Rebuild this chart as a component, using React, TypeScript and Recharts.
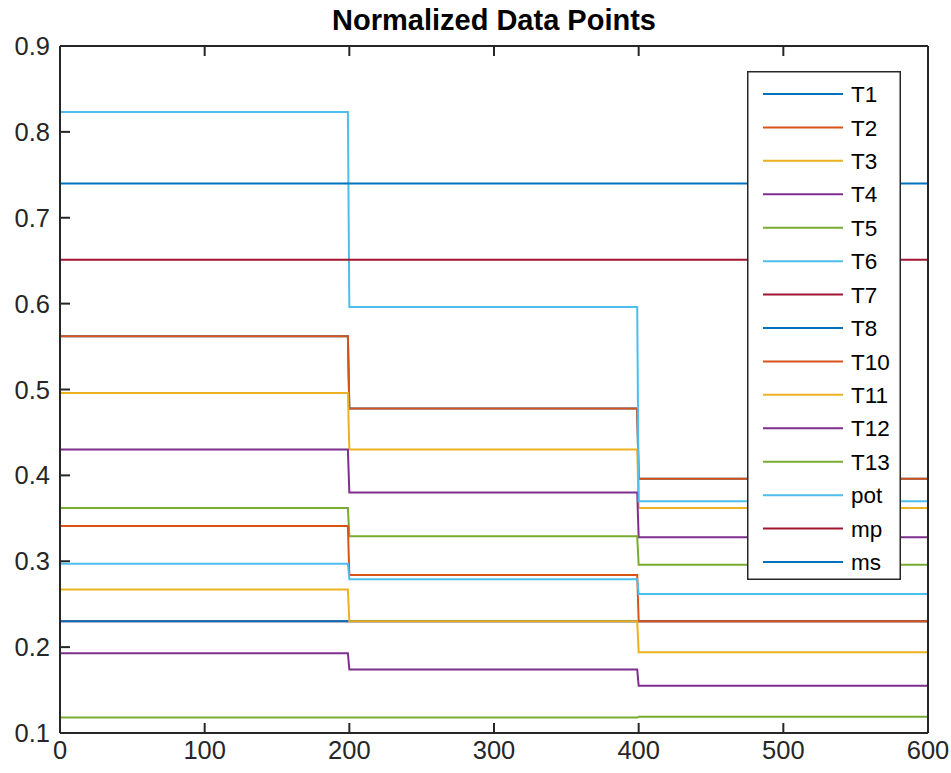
import { Legend, Line, LineChart, XAxis, YAxis } from "recharts";

// sample positions of the three plateaus (0-200, 200-400, 400-600)
const stepX = [0, 199, 200, 399, 400, 600];
const stepSegment = [0, 0, 1, 1, 2, 2];

const seriesNames = ["T1", "T2", "T3", "T4", "T5", "T6", "T7", "T8", "T10", "T11", "T12", "T13", "pot", "mp", "ms"];
const seriesColors = [
  "#0072BD", "#D95319", "#EDB120", "#7E2F8E", "#77AC30", "#4DBEEE", "#A2142F",
  "#0072BD", "#D95319", "#EDB120", "#7E2F8E", "#77AC30", "#4DBEEE", "#A2142F", "#0072BD",
];

// level of each series on each plateau
const T1 = [0.562, 0.478, 0.396];
const T2 = [0.562, 0.478, 0.396];
const T3 = [0.496, 0.43, 0.362];
const T4 = [0.43, 0.38, 0.328];
const T5 = [0.362, 0.329, 0.296];
const T6 = [0.823, 0.596, 0.37];
const T7 = [0.23, 0.23, 0.23];
const T8 = [0.23, 0.23, 0.23];
const T10 = [0.341, 0.284, 0.23];
const T11 = [0.267, 0.23, 0.194];
const T12 = [0.193, 0.174, 0.155];
const T13 = [0.118, 0.118, 0.119];
const pot = [0.297, 0.279, 0.262];
const mp = [0.651, 0.651, 0.651];
const ms = [0.74, 0.74, 0.74];

const levels = [T1, T2, T3, T4, T5, T6, T7, T8, T10, T11, T12, T13, pot, mp, ms];

const xTicks = [0, 100, 200, 300, 400, 500, 600];
const yTicks = [0.1, 0.2, 0.3, 0.4, 0.5, 0.6, 0.7, 0.8, 0.9];

const data = stepX.map((x, i) => {
  const row: Record<string, number> = { x };
  seriesNames.forEach((name, k) => {
    row[name] = levels[k][stepSegment[i]];
  });
  return row;
});

const axisColor = "#262626";
const font = "'Liberation Sans', Arial, Helvetica, sans-serif";

function renderLegend(props: any) {
  // keep plotting order, not alphabetical
  const items = [...(props.payload || [])].sort(
    (a: any, b: any) => seriesNames.indexOf(a.value) - seriesNames.indexOf(b.value)
  );
  return (
    <svg width={154} height={509} style={{ display: "block" }}>
      <rect x={0.75} y={0.75} width={152.5} height={507.5} fill="#fff" stroke={axisColor} strokeWidth={1.5} />
      {items.map((entry: any, i: number) => {
        const cy = 23 + i * 33.43;
        return (
          <g key={entry.value}>
            <line x1={16} x2={96} y1={cy} y2={cy} stroke={entry.color} strokeWidth={2} />
            <text x={104} y={cy} dy="0.36em" fontSize={22.5} fill="#000" fontFamily={font}>
              {entry.value}
            </text>
          </g>
        );
      })}
    </svg>
  );
}

export default function App() {
  return (
    <div style={{ position: "absolute", left: 0, top: 0, width: 951, height: 773, background: "#fff", fontFamily: font }}>
      <div
        style={{
          position: "absolute",
          left: 60,
          top: 6,
          width: 868,
          textAlign: "center",
          fontWeight: 700,
          fontSize: 29,
          lineHeight: 1,
          color: "#000",
        }}
      >
        Normalized Data Points
      </div>
      <LineChart width={951} height={773} data={data} margin={{ top: 45, right: 22, left: 0, bottom: 0 }}>
        <XAxis
          dataKey="x"
          type="number"
          domain={[0, 600]}
          ticks={xTicks}
          height={40}
          stroke={axisColor}
          strokeWidth={2}
          tickSize={-10}
          tickMargin={18}
          tick={{ fill: axisColor, fontSize: 25.5 }}
        />
        <XAxis
          xAxisId="top"
          orientation="top"
          dataKey="x"
          type="number"
          domain={[0, 600]}
          ticks={xTicks}
          height={1}
          stroke={axisColor}
          strokeWidth={2}
          tickSize={-10}
          tickFormatter={() => ""}
        />
        <YAxis
          type="number"
          domain={[0.1, 0.9]}
          ticks={yTicks}
          width={60}
          stroke={axisColor}
          strokeWidth={2}
          tickSize={-10}
          tickMargin={20}
          tickFormatter={(v: number) => v.toFixed(1)}
          tick={{ fill: axisColor, fontSize: 25.5 }}
        />
        <YAxis
          yAxisId="right"
          orientation="right"
          type="number"
          domain={[0.1, 0.9]}
          ticks={yTicks}
          width={1}
          stroke={axisColor}
          strokeWidth={2}
          tickSize={-10}
          tickFormatter={() => ""}
        />
        <Legend
          layout="vertical"
          align="center"
          verticalAlign="middle"
          content={renderLegend}
          wrapperStyle={{ position: "absolute", left: 747, top: 71, width: 154, height: 509, zIndex: 10 }}
        />
        {seriesNames.map((name, k) => (
          <Line
            key={name}
            type="linear"
            dataKey={name}
            name={name}
            stroke={seriesColors[k]}
            strokeWidth={2}
            dot={false}
            activeDot={false}
            isAnimationActive={false}
          />
        ))}
      </LineChart>
    </div>
  );
}
